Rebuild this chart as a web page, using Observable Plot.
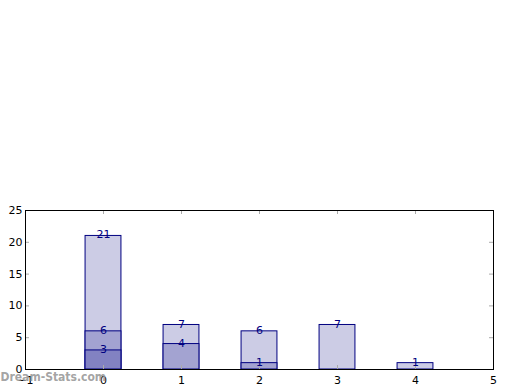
<!DOCTYPE html>
<html><head><meta charset="utf-8">
<script src="https://cdn.jsdelivr.net/npm/d3@7"></script>
<script src="https://cdn.jsdelivr.net/npm/@observablehq/plot@0.6"></script>
<style>body{margin:0;background:#fff}</style>
</head><body><div id="chart"></div>
<script>
const categories = [0, 1, 2, 3, 4];
const lightValues = [21, 7, 6, 7, 1];
const mediumValues = [6, 4, 1, 0, 0];
const darkValues = [3, 0, 0, 0, 0];
const xTicks = [-1, 0, 1, 2, 3, 4, 5];
const yTicks = [0, 5, 10, 15, 20, 25];
const watermark = "Dream-Stats.com";

const mk = (vals, layer) => categories.map((c, i) => ({x: c, v: vals[i], layer})).filter(d => d.v > 0);
const data = [...mk(lightValues, "light"), ...mk(mediumValues, "medium"), ...mk(darkValues, "dark")];
const fills = {light: "#ccccE5", medium: "#a3a3d1", dark: "#8282c2"};
const hw = 0.23;
const W = 520, H = 390, mL = 25, mR = 27, mT = 210, mB = 21;
const fw = W - mL - mR, fh = H - mT - mB, tk = 4;
const fmt = d3.format("d");

const plot = Plot.plot({
  width: W, height: H,
  marginLeft: mL, marginRight: mR, marginTop: mT, marginBottom: mB,
  style: {fontFamily: "DejaVu Sans", fontSize: "11px", background: "white"},
  x: {domain: [-1, 5], ticks: xTicks, label: null},
  y: {domain: [0, 25], ticks: yTicks, label: null},
  marks: [
    Plot.rectY(data, {x1: d => d.x - hw, x2: d => d.x + hw, y1: 0, y2: "v", fill: d => fills[d.layer], stroke: "#000080", strokeWidth: 1}),
    Plot.tickX(xTicks, {x: d => d, stroke: "#aaa", strokeWidth: 1, insetTop: fh - tk}),
    Plot.tickX(xTicks, {x: d => d, stroke: "#aaa", strokeWidth: 1, insetBottom: fh - tk}),
    Plot.tickY(yTicks, {y: d => d, stroke: "#aaa", strokeWidth: 1, insetRight: fw - tk}),
    Plot.tickY(yTicks, {y: d => d, stroke: "#aaa", strokeWidth: 1, insetLeft: fw - tk}),
    Plot.text(data, {x: "x", y: "v", text: d => String(d.v), fill: "#000080", fontSize: 11, dy: -1}),
    Plot.frame({stroke: "black", strokeWidth: 1}),
    Plot.axisX({anchor: "bottom", ticks: xTicks, tickSize: 0, tickPadding: 7, tickFormat: fmt, fill: "black"}),
    Plot.axisY({anchor: "left", ticks: yTicks, tickSize: 0, tickPadding: 3, tickFormat: fmt, fill: "black"}),
    Plot.text([watermark], {frameAnchor: "bottom-left", text: d => d, dx: -25, dy: 11, textAnchor: "start", fill: "#999", fillOpacity: 0.9, fontWeight: "bold", fontSize: 12, fontFamily: "DejaVu Sans Condensed"})
  ]
});
document.getElementById("chart").appendChild(plot);
</script>
</body></html>
